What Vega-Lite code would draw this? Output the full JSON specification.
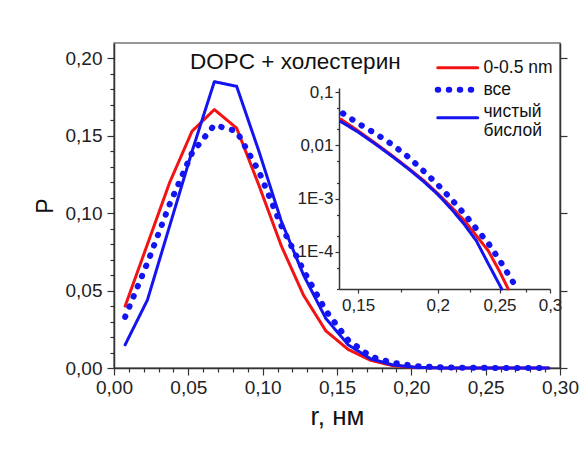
{
  "$schema": "https://vega.github.io/schema/vega-lite/v6.json",
  "width": 446,
  "height": 325,
  "autosize": {"type": "none"},
  "padding": {"left": 114, "top": 43, "right": 25, "bottom": 82},
  "background": "white",
  "title": {"text": "DOPC + холестерин", "anchor": "start", "frame": "group", "dx": 76, "offset": -48, "baseline": "alphabetic", "font": "Liberation Sans", "fontSize": 22.5, "fontWeight": "normal", "color": "#111"},
  "config": {
    "view": {"stroke": "#777", "strokeWidth": 1.5},
    "axis": {"grid": false, "labelFlush": false, "labelFont": "Liberation Sans", "titleFont": "Liberation Sans", "labelColor": "#222", "titleColor": "#111", "domainColor": "#333", "tickColor": "#333", "domainWidth": 1.5, "tickWidth": 1.2, "titleFontWeight": "normal"}
  },
  "datasets": {
    "main": [
      {"r": 0.0075, "P": 0.040, "s": "0-0.5 nm"},
      {"r": 0.0225, "P": 0.080, "s": "0-0.5 nm"},
      {"r": 0.0375, "P": 0.120, "s": "0-0.5 nm"},
      {"r": 0.0525, "P": 0.153, "s": "0-0.5 nm"},
      {"r": 0.0675, "P": 0.167, "s": "0-0.5 nm"},
      {"r": 0.0825, "P": 0.155, "s": "0-0.5 nm"},
      {"r": 0.0975, "P": 0.118, "s": "0-0.5 nm"},
      {"r": 0.1125, "P": 0.079, "s": "0-0.5 nm"},
      {"r": 0.1275, "P": 0.047, "s": "0-0.5 nm"},
      {"r": 0.1425, "P": 0.024, "s": "0-0.5 nm"},
      {"r": 0.1575, "P": 0.012, "s": "0-0.5 nm"},
      {"r": 0.1725, "P": 0.005, "s": "0-0.5 nm"},
      {"r": 0.1875, "P": 0.0015, "s": "0-0.5 nm"},
      {"r": 0.2025, "P": 0.0004, "s": "0-0.5 nm"},
      {"r": 0.2175, "P": 0.0001, "s": "0-0.5 nm"},
      {"r": 0.2325, "P": 0.0, "s": "0-0.5 nm"},
      {"r": 0.2475, "P": 0.0, "s": "0-0.5 nm"},
      {"r": 0.2625, "P": 0.0, "s": "0-0.5 nm"},
      {"r": 0.2775, "P": 0.0, "s": "0-0.5 nm"},
      {"r": 0.2925, "P": 0.0, "s": "0-0.5 nm"},
      {"r": 0.0075, "P": 0.015, "s": "чистый бислой"},
      {"r": 0.0225, "P": 0.044, "s": "чистый бислой"},
      {"r": 0.0375, "P": 0.092, "s": "чистый бислой"},
      {"r": 0.0525, "P": 0.140, "s": "чистый бислой"},
      {"r": 0.0675, "P": 0.185, "s": "чистый бислой"},
      {"r": 0.0825, "P": 0.182, "s": "чистый бислой"},
      {"r": 0.0975, "P": 0.140, "s": "чистый бислой"},
      {"r": 0.1125, "P": 0.095, "s": "чистый бислой"},
      {"r": 0.1275, "P": 0.060, "s": "чистый бислой"},
      {"r": 0.1425, "P": 0.032, "s": "чистый бислой"},
      {"r": 0.1575, "P": 0.015, "s": "чистый бислой"},
      {"r": 0.1725, "P": 0.006, "s": "чистый бислой"},
      {"r": 0.1875, "P": 0.002, "s": "чистый бислой"},
      {"r": 0.2025, "P": 0.0005, "s": "чистый бислой"},
      {"r": 0.2175, "P": 0.0001, "s": "чистый бислой"},
      {"r": 0.2325, "P": 0.0, "s": "чистый бислой"},
      {"r": 0.2475, "P": 0.0, "s": "чистый бислой"},
      {"r": 0.2625, "P": 0.0, "s": "чистый бислой"},
      {"r": 0.2775, "P": 0.0, "s": "чистый бислой"},
      {"r": 0.2925, "P": 0.0, "s": "чистый бислой"},
      {"r": 0.0075, "P": 0.033, "s": "все"},
      {"r": 0.0225, "P": 0.068, "s": "все"},
      {"r": 0.0375, "P": 0.106, "s": "все"},
      {"r": 0.0525, "P": 0.139, "s": "все"},
      {"r": 0.0675, "P": 0.157, "s": "все"},
      {"r": 0.0825, "P": 0.153, "s": "все"},
      {"r": 0.0975, "P": 0.127, "s": "все"},
      {"r": 0.1125, "P": 0.092, "s": "все"},
      {"r": 0.1275, "P": 0.063, "s": "все"},
      {"r": 0.1425, "P": 0.037, "s": "все"},
      {"r": 0.1575, "P": 0.018, "s": "все"},
      {"r": 0.1725, "P": 0.0075, "s": "все"},
      {"r": 0.1875, "P": 0.0034, "s": "все"},
      {"r": 0.2025, "P": 0.0013, "s": "все"},
      {"r": 0.2175, "P": 0.0005, "s": "все"},
      {"r": 0.2325, "P": 0.0002, "s": "все"},
      {"r": 0.2475, "P": 0.0001, "s": "все"},
      {"r": 0.2625, "P": 0.0, "s": "все"},
      {"r": 0.2775, "P": 0.0, "s": "все"},
      {"r": 0.2925, "P": 0.0, "s": "все"}
    ],
    "inset": [
      {"r": 0.141, "P": 0.031, "s": "0-0.5 nm"},
      {"r": 0.15, "P": 0.0188, "s": "0-0.5 nm"},
      {"r": 0.16, "P": 0.0108, "s": "0-0.5 nm"},
      {"r": 0.17, "P": 0.0063, "s": "0-0.5 nm"},
      {"r": 0.18, "P": 0.0037, "s": "0-0.5 nm"},
      {"r": 0.19, "P": 0.0022, "s": "0-0.5 nm"},
      {"r": 0.20, "P": 0.00125, "s": "0-0.5 nm"},
      {"r": 0.21, "P": 0.0007, "s": "0-0.5 nm"},
      {"r": 0.22, "P": 0.00039, "s": "0-0.5 nm"},
      {"r": 0.23, "P": 0.0002, "s": "0-0.5 nm"},
      {"r": 0.24, "P": 0.000105, "s": "0-0.5 nm"},
      {"r": 0.25, "P": 0.000043, "s": "0-0.5 nm"},
      {"r": 0.258, "P": 0.00002, "s": "0-0.5 nm"},
      {"r": 0.141, "P": 0.028, "s": "чистый бислой"},
      {"r": 0.15, "P": 0.0178, "s": "чистый бислой"},
      {"r": 0.16, "P": 0.0104, "s": "чистый бислой"},
      {"r": 0.17, "P": 0.0061, "s": "чистый бислой"},
      {"r": 0.18, "P": 0.0036, "s": "чистый бислой"},
      {"r": 0.19, "P": 0.0021, "s": "чистый бислой"},
      {"r": 0.20, "P": 0.0012, "s": "чистый бислой"},
      {"r": 0.21, "P": 0.00064, "s": "чистый бислой"},
      {"r": 0.22, "P": 0.00033, "s": "чистый бислой"},
      {"r": 0.23, "P": 0.00016, "s": "чистый бислой"},
      {"r": 0.24, "P": 0.00006, "s": "чистый бислой"},
      {"r": 0.252, "P": 0.00002, "s": "чистый бислой"},
      {"r": 0.142, "P": 0.040, "s": "все"},
      {"r": 0.15, "P": 0.026, "s": "все"},
      {"r": 0.16, "P": 0.0165, "s": "все"},
      {"r": 0.17, "P": 0.0102, "s": "все"},
      {"r": 0.18, "P": 0.006, "s": "все"},
      {"r": 0.19, "P": 0.0033, "s": "все"},
      {"r": 0.20, "P": 0.00183, "s": "все"},
      {"r": 0.21, "P": 0.00098, "s": "все"},
      {"r": 0.22, "P": 0.00052, "s": "все"},
      {"r": 0.23, "P": 0.00027, "s": "все"},
      {"r": 0.24, "P": 0.000145, "s": "все"},
      {"r": 0.25, "P": 0.00007, "s": "все"},
      {"r": 0.2625, "P": 0.000027, "s": "все"}
    ]
  },
  "resolve": {"scale": {"x": "independent", "y": "independent"}},
  "layer": [
    {
      "data": {"name": "main"},
      "mark": {"type": "line", "strokeCap": "round", "strokeJoin": "round"},
      "encoding": {
        "x": {"field": "r", "type": "quantitative", "scale": {"domain": [0, 0.3], "nice": false, "zero": false},
          "axis": {"orient": "bottom", "values": [0, 0.05, 0.1, 0.15, 0.2, 0.25, 0.3], "labelExpr": "replace(format(datum.value, '.2f'), '.', ',')", "labelFontSize": 19, "tickSize": 7, "labelPadding": 3, "title": "r, нм", "titleFontSize": 26, "titlePadding": 6}},
        "y": {"field": "P", "type": "quantitative", "scale": {"domain": [0, 0.21], "nice": false},
          "axis": {"orient": "left", "values": [0, 0.05, 0.1, 0.15, 0.2], "labelExpr": "replace(format(datum.value, '.2f'), '.', ',')", "labelFontSize": 19, "tickSize": 7, "labelPadding": 5, "title": "P", "titleFontSize": 23, "titlePadding": 8}},
        "color": {"field": "s", "type": "nominal",
          "scale": {"domain": ["0-0.5 nm", "все", "чистый бислой"], "range": ["#f21414", "#1414f0", "#1414f0"]},
          "legend": {"title": null, "orient": "none", "legendX": 335, "legendY": 16, "padding": 0, "symbolType": "M-4,0H4", "symbolSize": 100, "labelFont": "Liberation Sans", "labelFontSize": 17.5, "labelColor": "#111", "labelOffset": 17, "labelLimit": 120, "rowPadding": 0, "labelExpr": "datum.label == 'чистый бислой' ? ['чистый', 'бислой'] : datum.label", "encoding": {"symbols": {"strokeCap": {"value": "round"}, "fill": {"value": "transparent"}}, "labels": {"dy": {"condition": {"test": "datum.label == 'чистый бислой'", "value": -6}, "value": 0}}}}},
        "strokeDash": {"field": "s", "type": "nominal", "scale": {"domain": ["0-0.5 nm", "все", "чистый бислой"], "range": [[1, 0], [0.5, 10.5], [1, 0]]}},
        "strokeWidth": {"field": "s", "type": "nominal", "scale": {"type": "ordinal", "domain": ["0-0.5 nm", "все", "чистый бислой"], "range": [3, 6, 3]}}
      }
    },
    {
      "data": {"name": "main"},
      "mark": {"type": "line", "opacity": 0},
      "encoding": {
        "x": {"field": "r", "type": "quantitative", "scale": {"domain": [0, 0.3], "nice": false, "zero": false},
          "axis": {"orient": "bottom", "values": [0.01, 0.02, 0.03, 0.04, 0.06, 0.07, 0.08, 0.09, 0.11, 0.12, 0.13, 0.14, 0.16, 0.17, 0.18, 0.19, 0.21, 0.22, 0.23, 0.24, 0.26, 0.27, 0.28, 0.29], "labels": false, "domain": false, "tickSize": 4, "title": null}},
        "y": {"field": "P", "type": "quantitative", "scale": {"domain": [0, 0.21], "nice": false},
          "axis": {"orient": "left", "values": [0.01, 0.02, 0.03, 0.04, 0.06, 0.07, 0.08, 0.09, 0.11, 0.12, 0.13, 0.14, 0.16, 0.17, 0.18, 0.19], "labels": false, "domain": false, "tickSize": 4, "title": null}}
      }
    },
    {
      "data": {"name": "main"},
      "mark": {"type": "line", "opacity": 0},
      "encoding": {
        "x": {"field": "r", "type": "quantitative", "scale": {"domain": [0, 0.3], "nice": false, "zero": false}, "axis": null},
        "y": {"field": "P", "type": "quantitative", "scale": {"domain": [0, 0.21], "nice": false},
          "axis": {"orient": "right", "values": [0, 0.05, 0.1, 0.15, 0.2], "labels": false, "tickSize": 7, "title": null}}
      }
    },
    {
      "data": {"name": "inset"},
      "mark": {"type": "line", "strokeCap": "round", "strokeJoin": "round"},
      "encoding": {
        "x": {"field": "r", "type": "quantitative", "scale": {"type": "log", "domain": [0.14, 0.3], "range": [225, 436], "nice": false},
          "axis": {"orient": "bottom", "offset": -79, "values": [0.15, 0.2, 0.25, 0.3], "labelExpr": "replace(datum.value + '', '.', ',')", "labelFontSize": 17, "tickSize": 4, "labelPadding": 4, "title": null}},
        "y": {"field": "P", "type": "quantitative", "scale": {"type": "log", "domain": [0.00002, 0.12], "range": [246, 45], "nice": false},
          "axis": {"orient": "left", "offset": -225, "values": [0.1, 0.01, 0.001, 0.0001], "labelExpr": "datum.value >= 0.01 ? replace(datum.value + '', '.', ',') : '1E' + round(log(datum.value) / LN10)", "labelFontSize": 17, "tickSize": 4, "labelPadding": 2, "title": null}},
        "color": {"field": "s", "type": "nominal", "scale": {"domain": ["0-0.5 nm", "все", "чистый бислой"], "range": ["#f21414", "#1414f0", "#1414f0"]}},
        "strokeDash": {"field": "s", "type": "nominal", "scale": {"domain": ["0-0.5 nm", "все", "чистый бислой"], "range": [[1, 0], [0.5, 10.5], [1, 0]]}},
        "strokeWidth": {"field": "s", "type": "nominal", "scale": {"type": "ordinal", "domain": ["0-0.5 nm", "все", "чистый бислой"], "range": [3, 6, 3]}}
      }
    },
    {
      "data": {"name": "inset"},
      "mark": {"type": "line", "opacity": 0},
      "encoding": {
        "x": {"field": "r", "type": "quantitative", "scale": {"type": "log", "domain": [0.14, 0.3], "range": [225, 436], "nice": false},
          "axis": {"orient": "bottom", "offset": -79, "values": [0.175, 0.225, 0.275], "labels": false, "domain": false, "tickSize": 3, "title": null}},
        "y": {"field": "P", "type": "quantitative", "scale": {"type": "log", "domain": [0.00002, 0.12], "range": [246, 45], "nice": false},
          "axis": {"orient": "left", "offset": -225, "values": [0.00002, 0.00005, 0.0002, 0.0005, 0.002, 0.005, 0.02, 0.05], "labels": false, "domain": false, "tickSize": 2.5, "title": null}}
      }
    }
  ]
}
